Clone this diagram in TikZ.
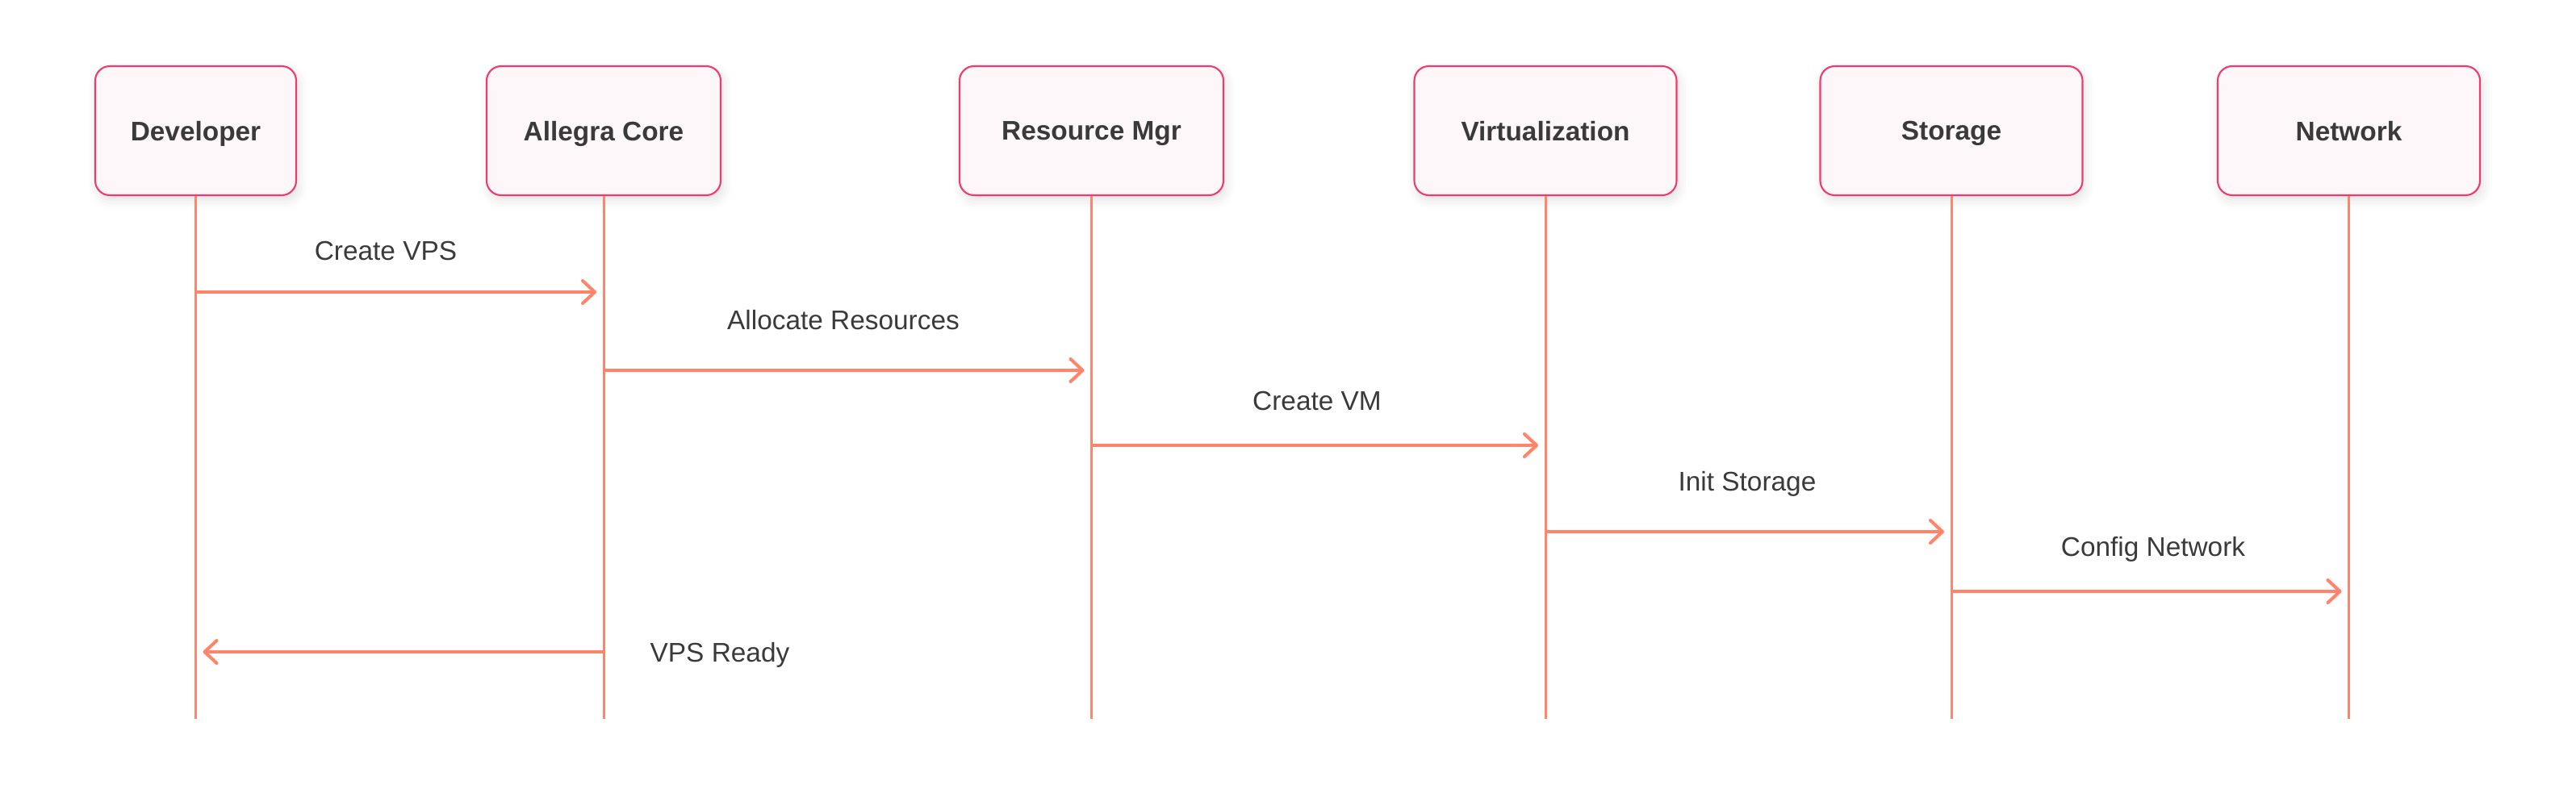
\documentclass[tikz,border=0pt]{standalone}
\usepackage{fontspec}
\setmainfont{Liberation Sans}
\usetikzlibrary{arrows.meta,shadows.blur}
\definecolor{boxline}{HTML}{EF3B6E}
\definecolor{boxfill}{HTML}{FDF7F9}
\definecolor{lifeline}{HTML}{FF8469}
\definecolor{labeltext}{HTML}{3A3A3A}
\tikzset{
  actor/.style={draw=boxline,fill=boxfill,line width=0.6pt,rounded corners=0.18cm,
    minimum height=1.6cm,text depth=0pt,text=labeltext,
    font=\fontsize{9.5}{11}\selectfont\bfseries,
    blur shadow={shadow xshift=0.03cm,shadow yshift=-0.06cm,shadow blur radius=0.12cm,shadow opacity=12}},
  life/.style={draw=lifeline,line width=0.85pt},
  msg/.style={draw=lifeline,line width=1.15pt,-{Straight Barb[length=0.15cm,width=0.28cm,round]},shorten >=0.09cm},
  msglabel/.style={text=labeltext,anchor=base,font=\fontsize{9.5}{11}\selectfont}
}
\begin{document}
\begin{tikzpicture}
  \useasboundingbox (0,0) rectangle (31.92,-9.73);
  % participants
  \node [actor,minimum width=2.49cm] (dev) at (2.425,-1.62) {Developer};
  \node [actor,minimum width=2.90cm] (core) at (7.48,-1.62) {Allegra Core};
  \node [actor,minimum width=3.27cm] (resmgr) at (13.525,-1.62) {Resource Mgr};
  \node [actor,minimum width=3.25cm] (virt) at (19.15,-1.62) {Virtualization};
  \node [actor,minimum width=3.25cm] (stor) at (24.18,-1.62) {Storage};
  \node [actor,minimum width=3.25cm] (net) at (29.105,-1.62) {Network};
  % lifelines
  \coordinate (dev-end) at (dev.south |- 0,-8.91);
  \coordinate (core-end) at (core.south |- 0,-8.91);
  \coordinate (resmgr-end) at (resmgr.south |- 0,-8.91);
  \coordinate (virt-end) at (virt.south |- 0,-8.91);
  \coordinate (stor-end) at (stor.south |- 0,-8.91);
  \coordinate (net-end) at (net.south |- 0,-8.91);
  \draw [life] (dev.south) -- (dev-end);
  \draw [life] (core.south) -- (core-end);
  \draw [life] (resmgr.south) -- (resmgr-end);
  \draw [life] (virt.south) -- (virt-end);
  \draw [life] (stor.south) -- (stor-end);
  \draw [life] (net.south) -- (net-end);
  % messages
  \coordinate (dev-m1) at (dev.south |- 0,-3.62);
  \coordinate (core-m1) at (core.south |- 0,-3.62);
  \coordinate (core-m2) at (core.south |- 0,-4.59);
  \coordinate (resmgr-m2) at (resmgr.south |- 0,-4.59);
  \coordinate (resmgr-m3) at (resmgr.south |- 0,-5.52);
  \coordinate (virt-m3) at (virt.south |- 0,-5.52);
  \coordinate (virt-m4) at (virt.south |- 0,-6.59);
  \coordinate (stor-m4) at (stor.south |- 0,-6.59);
  \coordinate (stor-m5) at (stor.south |- 0,-7.33);
  \coordinate (net-m5) at (net.south |- 0,-7.33);
  \coordinate (core-m6) at (core.south |- 0,-8.08);
  \coordinate (dev-m6) at (dev.south |- 0,-8.08);
  \draw [msg] (dev-m1) -- (core-m1);
  \draw [msg] (core-m2) -- (resmgr-m2);
  \draw [msg] (resmgr-m3) -- (virt-m3);
  \draw [msg] (virt-m4) -- (stor-m4);
  \draw [msg] (stor-m5) -- (net-m5);
  \draw [msg] (core-m6) -- (dev-m6);
  \node [msglabel] (l1) at (4.78,-3.23) {Create VPS};
  \node [msglabel] (l2) at (10.45,-4.08) {Allocate Resources};
  \node [msglabel] (l3) at (16.32,-5.08) {Create VM};
  \node [msglabel] (l4) at (21.65,-6.08) {Init Storage};
  \node [msglabel] (l5) at (26.68,-6.89) {Config Network};
  \node [msglabel] (l6) at (8.92,-8.20) {VPS Ready};
\end{tikzpicture}
\end{document}
